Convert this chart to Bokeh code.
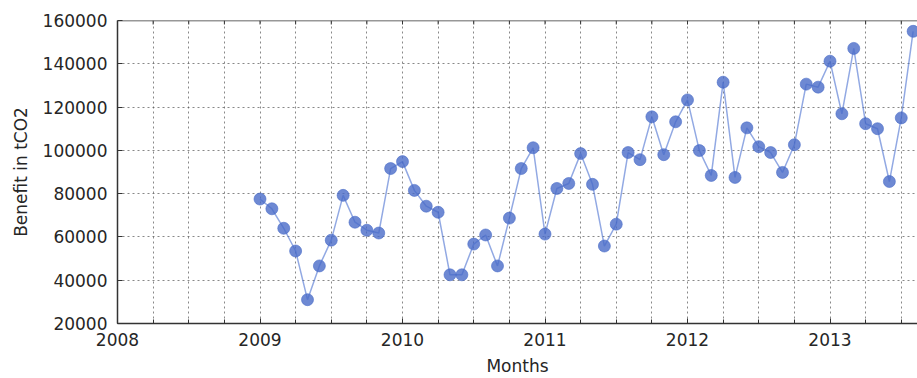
from bokeh.plotting import figure
from bokeh.models import Range1d, FixedTicker, ColumnDataSource, Span
from bokeh.embed import file_html
from bokeh.resources import INLINE

months = [f"{y}-{m:02d}" for y in range(2009, 2014) for m in range(1, 13)][:56]
benefit = [
    77500, 73000, 64000, 53500, 31000, 46600, 58500, 79200, 66800, 63100, 61800, 91600,
    94800, 81500, 74200, 71400, 42500, 42500, 56700, 60900, 46600, 68700, 91600, 101200,
    61300, 82400, 84700, 98500, 84300, 55800, 65900, 99000, 95700, 115500, 98000, 113200,
    123300, 99900, 88400, 131500, 87500, 110400, 101700, 99000, 89800, 102600, 130600, 129200,
    141200, 116900, 147100, 112300, 110000, 85600, 115000, 155000,
]
year_ticks = [2008, 2009, 2010, 2011, 2012, 2013]
y_ticks = [20000, 40000, 60000, 80000, 100000, 120000, 140000, 160000]

xs = [int(s[:4]) + (int(s[5:]) - 1) / 12 for s in months]
quarters = [y + q / 4 for y in range(2008, 2014) for q in range(4)]

src = ColumnDataSource(dict(x=xs, y=benefit))

Y0, Y1 = 20000, 160000
p = figure(width=917, height=378, output_backend="svg", toolbar_location=None,
           x_range=Range1d(2008, 2013.614), y_range=Range1d(Y0, Y1),
           min_border_left=117, min_border_right=0, min_border_top=20, min_border_bottom=10)
p.outline_line_color = None
p.background_fill_color = "white"
p.border_fill_color = "white"

FONT = "DejaVu Sans"
TXT = "#262626"
AX = "#333333"

p.xaxis.ticker = FixedTicker(ticks=year_ticks, minor_ticks=quarters)
p.yaxis.ticker = FixedTicker(ticks=y_ticks)
p.xaxis.major_label_overrides = {t: str(t) for t in year_ticks}
p.yaxis.major_label_overrides = {t: str(t) for t in y_ticks}

for ax in (p.xaxis[0], p.yaxis[0]):
    ax.major_label_text_font = FONT
    ax.major_label_text_font_size = "17px"
    ax.major_label_text_color = TXT
    ax.axis_label_text_font = FONT
    ax.axis_label_text_font_size = "17px"
    ax.axis_label_text_font_style = "normal"
    ax.axis_label_text_color = TXT
    ax.axis_line_color = AX
    ax.axis_line_width = 1.5
    ax.major_tick_in = 5
    ax.major_tick_out = 0
    ax.major_tick_line_color = AX
    ax.minor_tick_in = 4
    ax.minor_tick_out = 0
    ax.minor_tick_line_color = AX

p.xaxis.axis_label = "Months"
p.yaxis.axis_label = "Benefit in tCO2"
p.xaxis.major_label_standoff = 9
p.xaxis.axis_label_standoff = 7
p.yaxis.major_label_standoff = 10
p.yaxis.axis_label_standoff = 9
p.yaxis.minor_tick_line_color = None

# top border of the frame with inward ticks (no right border: chart is cropped)
p.add_layout(Span(location=Y1, dimension="width", line_color=AX, line_width=1.5, level="overlay"))
tick_len = (Y1 - Y0) * 4 / 304
p.segment(x0=quarters, y0=[Y1] * len(quarters), x1=quarters,
          y1=[Y1 - tick_len] * len(quarters), line_color=AX, line_width=1)

p.xgrid.ticker = FixedTicker(ticks=quarters)
p.ygrid.ticker = FixedTicker(ticks=y_ticks)
for g in (p.xgrid[0], p.ygrid[0]):
    g.grid_line_color = "#555555"
    g.grid_line_alpha = 0.7
    g.grid_line_dash = "2 3"
    g.grid_line_width = 1

p.line("x", "y", source=src, line_color="#4a6fd0", line_alpha=0.6, line_width=1.5)
p.scatter("x", "y", source=src, size=12, fill_color="#4a6cc8", fill_alpha=0.8,
          line_color="#4a6cc8", line_alpha=0.6)

open("out.html", "w").write(file_html(p, INLINE))
